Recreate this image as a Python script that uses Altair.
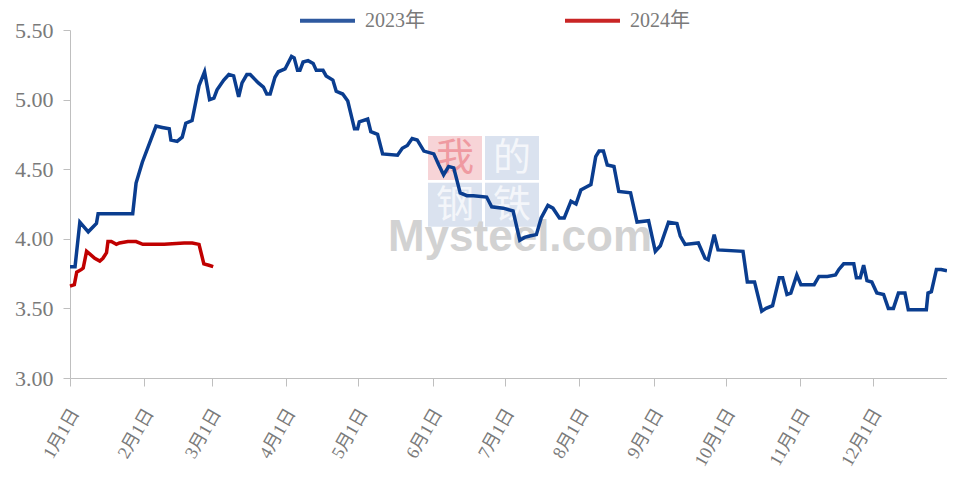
import altair as alt
import pandas as pd

# ---- data (x = day of year, y = value) ----
days_2023 = [0, 2.1, 4.1, 7.6, 11.0, 11.7, 26.1, 27.5, 30.1, 35.8, 38.4, 41.3, 42.0, 44.6, 46.7,
             48.2, 50.8, 53.7, 56.0, 58.1, 59.9, 61.2, 64.0, 66.1, 68.1, 70.2, 71.6, 73.6, 75.0,
             78.4, 80.5, 81.9, 83.3, 85.3, 86.7, 89.5, 92.2, 93.3, 94.7, 95.7, 97.0, 99.1, 101.2,
             102.5, 105.3, 106.6, 109.4, 110.8, 113.5, 115.6, 118.4, 119.7, 120.4, 123.9, 125.2,
             128.0, 130.1, 136.3, 138.3, 140.4, 142.4, 144.5, 147.3, 151.4, 153.5, 155.5, 157.6,
             159.7, 162.4, 165.2, 167.9, 173.4, 175.5, 180.3, 184.4, 187.2, 189.2, 191.3, 194.1,
             196.1, 198.9, 201.0, 203.7, 205.7, 208.5, 210.6, 212.6, 214.7, 216.8, 218.8, 220.2,
             222.0, 223.6, 226.4, 228.4, 233.3, 236.0, 240.8, 243.6, 245.7, 249.1, 252.6, 254.0,
             256.0, 261.5, 264.3, 265.6, 268.1, 269.7, 280.1, 281.9, 284.9, 287.9, 289.7, 292.4,
             295.2, 296.6, 298.4, 300.0, 302.5, 304.2, 309.7, 311.7, 315.2, 318.6, 320.0, 322.0,
             326.2, 327.3, 328.9, 330.3, 331.7, 333.7, 335.8, 338.6, 340.6, 342.7, 344.8, 347.5,
             348.9, 356.4, 357.1, 358.5, 360.6, 362.6, 365]
vals_2023 = [3.80, 3.80, 4.12, 4.05, 4.11, 4.18, 4.18, 4.40, 4.55, 4.81, 4.80, 4.79, 4.71, 4.70, 4.73,
             4.83, 4.85, 5.10, 5.20, 5.00, 5.01, 5.07, 5.14, 5.18, 5.17, 5.02, 5.12, 5.18, 5.18,
             5.12, 5.09, 5.04, 5.04, 5.16, 5.20, 5.22, 5.31, 5.30, 5.21, 5.21, 5.27, 5.28, 5.26,
             5.21, 5.21, 5.17, 5.14, 5.06, 5.04, 4.99, 4.79, 4.79, 4.84, 4.86, 4.77,
             4.75, 4.61, 4.60, 4.65, 4.67, 4.72, 4.71, 4.63, 4.61, 4.53, 4.46, 4.52,
             4.51, 4.33, 4.31, 4.31, 4.30, 4.23, 4.22, 4.20, 3.99, 4.01, 4.02, 4.03,
             4.15, 4.24, 4.22, 4.15, 4.15, 4.27, 4.25, 4.35, 4.37, 4.39, 4.59, 4.63,
             4.63, 4.53, 4.52, 4.34, 4.33, 4.12, 4.13, 3.91, 3.95, 4.12, 4.11, 4.02,
             3.96, 3.97, 3.86, 3.85, 4.03, 3.92, 3.91, 3.69, 3.69, 3.48, 3.50, 3.52,
             3.72, 3.72, 3.60, 3.61, 3.74, 3.67, 3.67, 3.73, 3.73, 3.74, 3.78, 3.82,
             3.82, 3.72, 3.72, 3.81, 3.70, 3.69, 3.61, 3.60, 3.50, 3.50, 3.61, 3.61,
             3.49, 3.49, 3.61, 3.62, 3.78, 3.78, 3.77]

days_2024 = [0, 1.8, 2.8, 4.8, 5.5, 6.9, 8.3, 10.3, 12.4, 13.7, 15.2, 15.8, 17.2, 19.3, 20.6,
             24.1, 27.5, 30.3, 39.2, 47.5, 50.9, 53.7, 55.7, 57.8, 59.6]
vals_2024 = [3.66, 3.67, 3.76, 3.78, 3.79, 3.91, 3.89, 3.86, 3.84, 3.86, 3.90, 3.98, 3.98, 3.96, 3.97,
             3.98, 3.98, 3.96, 3.96, 3.97, 3.97, 3.96, 3.82, 3.81, 3.80]

series_names = ["2023年", "2024年"]
series_colors = ["#0a3d8f", "#c00000"]

tick_days = [0, 31, 59, 90, 120, 151, 181, 212, 243, 273, 304, 334]
tick_labels = ["1月1日", "2月1日", "3月1日", "4月1日", "5月1日", "6月1日",
               "7月1日", "8月1日", "9月1日", "10月1日", "11月1日", "12月1日"]
y_ticks = [3.0, 3.5, 4.0, 4.5, 5.0, 5.5]

rows = []
for d, v in zip(days_2023, vals_2023):
    rows.append({"day": d, "value": v, "series": series_names[0]})
for d, v in zip(days_2024, vals_2024):
    rows.append({"day": d, "value": v, "series": series_names[1]})
df = pd.DataFrame(rows)

FONT = "'Liberation Serif', 'Times New Roman', 'Noto Sans CJK SC', serif"
GRAY = "#7a7a7a"
AXIS_GRAY = "#bfbfbf"

label_expr = ("[" + ",".join("'%s'" % t for t in tick_labels) + "][indexof(["
              + ",".join(str(t) for t in tick_days) + "], datum.value)]")

W, H = 877, 348

# watermark
wm_boxes = pd.DataFrame({
    "x": [358, 415, 358, 415], "x2": [412, 469, 412, 469],
    "y": [106, 106, 152.7, 152.7], "y2": [150, 150, 196.7, 196.7],
    "c": ["#f6cdd0", "#d3ddec", "#d3ddec", "#d3ddec"],
    "ch": ["我", "的", "钢", "铁"],
    "tc": ["#ef9aa1", "#f4f6fa", "#f4f6fa", "#f4f6fa"],
})
boxes = alt.Chart(wm_boxes).mark_rect(opacity=0.85).encode(
    x=alt.X("x:Q", scale=None), x2="x2:Q",
    y=alt.Y("y:Q", scale=None), y2="y2:Q",
    color=alt.Color("c:N", scale=None),
)
chars = alt.Chart(wm_boxes).transform_calculate(
    cx="(datum.x + datum.x2) / 2", cy="(datum.y + datum.y2) / 2 + 1"
).mark_text(font="'Noto Sans CJK SC'", fontSize=38, fontWeight="normal",
            baseline="middle", align="center").encode(
    x=alt.X("cx:Q", scale=None), y=alt.Y("cy:Q", scale=None),
    text="ch:N", color=alt.Color("tc:N", scale=None),
)
mysteel = alt.Chart(pd.DataFrame({"t": ["Mysteel.com"]})).mark_text(
    font="'Liberation Sans', Arial, sans-serif", fontSize=44, fontWeight="bold",
    color="#d2d2d2", align="center", baseline="alphabetic"
).encode(x=alt.value(450), y=alt.value(221), text="t:N")

lines = alt.Chart(df).mark_line(strokeWidth=3.5, interpolate="linear").encode(
    x=alt.X("day:Q", scale=alt.Scale(domain=[0, 365], nice=False, zero=False),
            axis=alt.Axis(values=tick_days, labelExpr=label_expr, title=None,
                          labelAngle=-60, labelAlign="right", labelBaseline="middle",
                          labelPadding=24, labelOffset=5, tickSize=8, grid=False,
                          domainColor=AXIS_GRAY, tickColor=AXIS_GRAY,
                          labelFont=FONT, labelFontSize=18, labelColor=GRAY)),
    y=alt.Y("value:Q", scale=alt.Scale(domain=[3.0, 5.5], nice=False, zero=False),
            axis=alt.Axis(values=y_ticks, format=".2f", title=None, tickSize=7,
                          grid=False, domainColor=AXIS_GRAY, tickColor=AXIS_GRAY,
                          labelFont=FONT, labelFontSize=22, labelColor=GRAY,
                          labelPadding=10)),
    color=alt.Color("series:N",
                    scale=alt.Scale(domain=series_names, range=series_colors),
                    legend=alt.Legend(title=None, orient="none", legendX=228, legendY=-39,
                                      direction="horizontal", symbolType="stroke",
                                      symbolSize=3025, symbolStrokeWidth=4,
                                      labelFont=FONT, labelFontSize=20, labelColor=GRAY,
                                      labelOffset=8, columnPadding=132)),
    detail="series:N",
    order="day:Q",
)

chart = alt.layer(boxes, chars, mysteel, lines).properties(
    width=W, height=H,
    autosize=alt.AutoSizeParams(type="none"),
    padding={"left": 62, "top": 22, "right": 0, "bottom": 98},
).configure_view(stroke=None)

chart.save("out.html", embed_options={"renderer": "svg", "actions": False})
